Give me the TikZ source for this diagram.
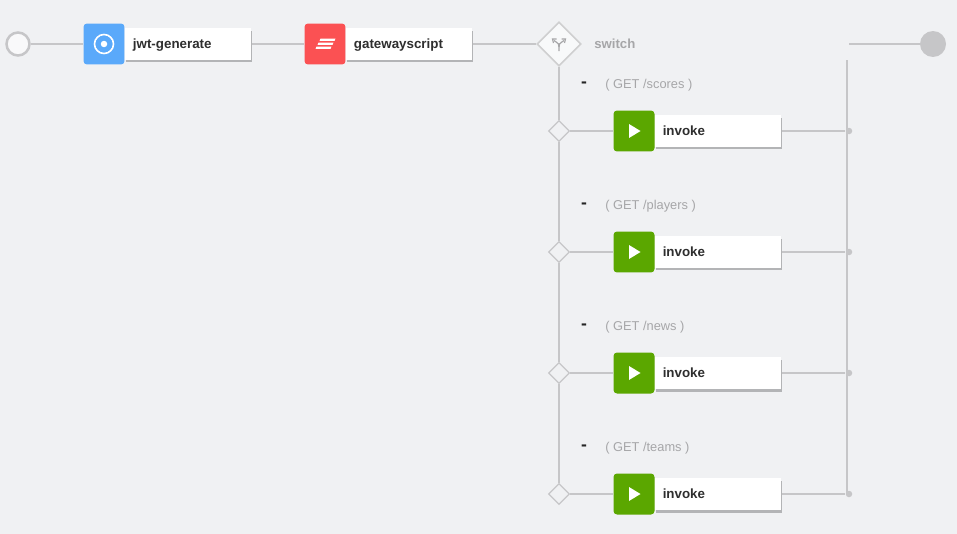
\documentclass[tikz,border=0pt]{standalone}
\usepackage{fontspec}
\setmainfont{Liberation Sans}
\usetikzlibrary{shapes.geometric,shadows}

\definecolor{canvas}{HTML}{F0F1F3}
\definecolor{wire}{HTML}{C6C6C8}
\definecolor{ghost}{HTML}{A6A6A8}
\definecolor{jwtblue}{HTML}{5AA9FA}
\definecolor{gwred}{HTML}{FB5153}
\definecolor{invgreen}{HTML}{5BA700}

\tikzset{
    wireline/.style={draw=wire, line width=.025cm},
    iconbox/.style={minimum size=.82cm, inner sep=0pt, rounded corners=.07cm},
    namebox/.style={fill=white, anchor=west, text width=2.21cm, inner xsep=.16cm, inner ysep=0pt,
        minimum height=.64cm, text height=.2cm, text depth=.03cm, font=\fontsize{7.6}{9}\selectfont\bfseries, text=black!82,
        drop shadow={shadow xshift=.015cm, shadow yshift=-.05cm, fill=black, opacity=.25}},
    jwticon/.style={iconbox, fill=jwtblue, path picture={
        \draw[white, line width=.032cm] (path picture bounding box.center) circle (.19cm);
        \fill[white] (path picture bounding box.center) circle (.065cm);}},
    gwicon/.style={iconbox, fill=gwred, path picture={
        \fill[white, sharp corners] ([shift={(-4.5,-5.5)}]path picture bounding box.center) -- ++(15,0) -- ++(-1,2.4) -- ++(-15,0) -- cycle;
        \fill[white, sharp corners] ([shift={(-6.5,-1.5)}]path picture bounding box.center) -- ++(15,0) -- ++(-1,2.4) -- ++(-15,0) -- cycle;
        \fill[white, sharp corners] ([shift={(-8.5,2.5)}]path picture bounding box.center) -- ++(15,0) -- ++(-1,2.4) -- ++(-15,0) -- cycle;}},
    playicon/.style={iconbox, fill=invgreen, path picture={
        \fill[white, sharp corners] ([shift={(-5,-7)}]path picture bounding box.center) -- ++(11.5,7) -- ++(-11.5,7) -- cycle;}},
    forkdiamond/.style={diamond, draw=wire!85!white, line width=.032cm, fill=white!55!canvas, minimum size=.88cm, inner sep=0pt, path picture={
        \draw[ghost, line width=.024cm] ([shift={(0,7)}]path picture bounding box.center) -- ([shift={(0,3)}]path picture bounding box.center) .. controls ([shift={(0,0)}]path picture bounding box.center) .. ([shift={(-5,-3.5)}]path picture bounding box.center);
        \draw[ghost, line width=.024cm] ([shift={(0,3)}]path picture bounding box.center) .. controls ([shift={(0,0)}]path picture bounding box.center) .. ([shift={(5,-3.5)}]path picture bounding box.center);
        \draw[ghost, line width=.024cm] ([shift={(-2.5,-5)}]path picture bounding box.center) -- ([shift={(-6.5,-5)}]path picture bounding box.center) -- ([shift={(-5.5,-1)}]path picture bounding box.center);
        \draw[ghost, line width=.024cm] ([shift={(2.5,-5)}]path picture bounding box.center) -- ([shift={(6.5,-5)}]path picture bounding box.center) -- ([shift={(5.5,-1)}]path picture bounding box.center);}},
    casediamond/.style={diamond, draw=wire, line width=.027cm, fill=canvas, minimum size=.42cm, inner sep=0pt},
    joindot/.style={circle, fill=wire, minimum size=.13cm, inner sep=0pt},
    casetext/.style={anchor=west, inner sep=0pt, text height=.2cm, text depth=.03cm, text=ghost, font=\fontsize{7.3}{9}\selectfont},
    casedash/.style={inner sep=0pt, text height=.2cm, text depth=.03cm, font=\fontsize{10}{10}\selectfont\bfseries, text=black!85},
}

\begin{document}
\begin{tikzpicture}[x=.02cm, y=-.02cm]
        \fill[canvas] (0,0) rectangle (957,534);
        \useasboundingbox (0,0) rectangle (957,534);

        \node[circle, draw=wire, line width=.05cm, fill=white!60!canvas, minimum size=.46cm, inner sep=0pt] (start) at (18,44) {};
        \node[namebox] (jwtname) at (124.6,44) {jwt-generate};
        \node[jwticon] (jwt) at (104,44) {};
        \node[namebox] (gwname) at (345.6,44) {gatewayscript};
        \node[gwicon] (gw) at (325,44) {};
        \node[forkdiamond] (switch) at (559,44) {};
        \node[casetext, font=\fontsize{7.5}{9}\selectfont\bfseries] (switchname) at (594,44) {switch};
        \coordinate (endfree) at (849,44);
        \node[circle, fill=wire, minimum size=.52cm, inner sep=0pt] (end) at (933,44) {};

        \coordinate (railtop) at (847,60);
        \coordinate (railend) at (847,494);

        \node[casedash] (dasha) at (584,83) {-};
        \node[casetext] (casea) at (605,84) {( GET /scores )};
        \node[casediamond] (fa) at (559,131) {};
        \node[namebox] (namea) at (654.4,131) {invoke};
        \node[playicon] (inva) at (634,131) {};
        \node[joindot] (joina) at (849,131) {};

        \node[casedash] (dashb) at (584,204) {-};
        \node[casetext] (caseb) at (605,205) {( GET /players )};
        \node[casediamond] (fb) at (559,252) {};
        \node[namebox] (nameb) at (654.4,252) {invoke};
        \node[playicon] (invb) at (634,252) {};
        \node[joindot] (joinb) at (849,252) {};

        \node[casedash] (dashc) at (584,325) {-};
        \node[casetext] (casec) at (605,326) {( GET /news )};
        \node[casediamond] (fc) at (559,373) {};
        \node[namebox] (namec) at (654.4,373) {invoke};
        \node[playicon] (invc) at (634,373) {};
        \node[joindot] (joinc) at (849,373) {};

        \node[casedash] (dashd) at (584,446) {-};
        \node[casetext] (cased) at (605,447) {( GET /teams )};
        \node[casediamond] (fd) at (559,494) {};
        \node[namebox] (named) at (654.4,494) {invoke};
        \node[playicon] (invd) at (634,494) {};
        \node[joindot] (joind) at (849,494) {};

        \draw[wireline] (start) -- (jwt);
        \draw[wireline] (jwtname) -- (gw);
        \draw[wireline] (gwname) -- (switch);
        \draw[wireline] (endfree) -- (end);

        \draw[wireline] (switch) -- (fa);
        \draw[wireline] (fa) -- (fb);
        \draw[wireline] (fb) -- (fc);
        \draw[wireline] (fc) -- (fd);

        \draw[wireline] (fa) -- (inva);
        \draw[wireline] (fb) -- (invb);
        \draw[wireline] (fc) -- (invc);
        \draw[wireline] (fd) -- (invd);

        \draw[wireline] (namea) -- (joina);
        \draw[wireline] (nameb) -- (joinb);
        \draw[wireline] (namec) -- (joinc);
        \draw[wireline] (named) -- (joind);

        \draw[wireline] (railtop) -- (railend);
    \end{tikzpicture}
\end{document}
